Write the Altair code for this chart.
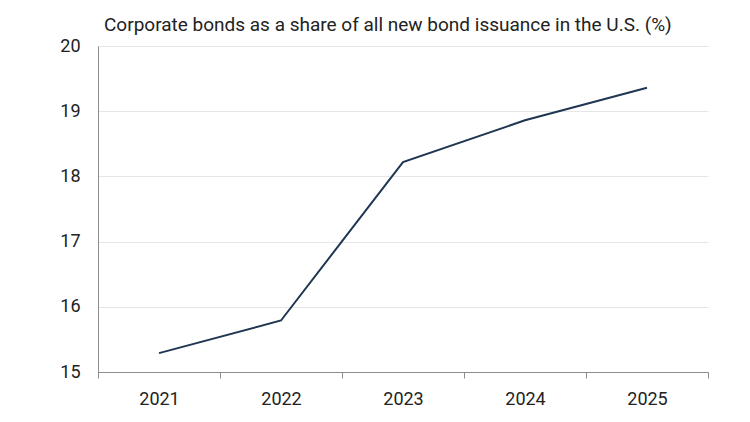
import altair as alt
import pandas as pd

years = ["2021", "2022", "2023", "2024", "2025"]
share = [15.29, 15.79, 18.22, 18.86, 19.36]

df = pd.DataFrame({"year": years, "share": share})

chart = alt.Chart(df).mark_line(color="#1f3652", strokeWidth=2).encode(
    x=alt.X("year:O", title=None,
            scale=alt.Scale(type="band", paddingInner=0, paddingOuter=0),
            axis=alt.Axis(labelAngle=0, tickBand="extent", ticks=True, tickSize=6,
                          tickColor="#8c8c8c", domainColor="#8c8c8c", grid=False,
                          labelFontSize=18, labelPadding=12, labelColor="#222222",
                          labelFont="Roboto")),
    y=alt.Y("share:Q", title=None,
            scale=alt.Scale(domain=[15, 20], nice=False, zero=False),
            axis=alt.Axis(values=[15, 16, 17, 18, 19, 20], ticks=False, grid=True,
                          gridColor="#e6e6e6", domainColor="#8c8c8c",
                          labelFontSize=18, labelPadding=18, labelColor="#222222",
                          labelFont="Roboto")),
).properties(
    width=610, height=326,
    title=alt.TitleParams("Corporate bonds as a share of all new bond issuance in the U.S. (%)",
                          anchor="start", frame="group", dx=6, fontSize=19,
                          fontWeight="normal", font="Roboto", color="#222222", offset=2),
    autosize=alt.AutoSizeParams(type="none"),
    padding={"left": 90, "top": 38, "right": 34, "bottom": 40},
).configure_view(stroke=None)

chart.save("out.html", embed_options={"renderer": "svg", "actions": False})
